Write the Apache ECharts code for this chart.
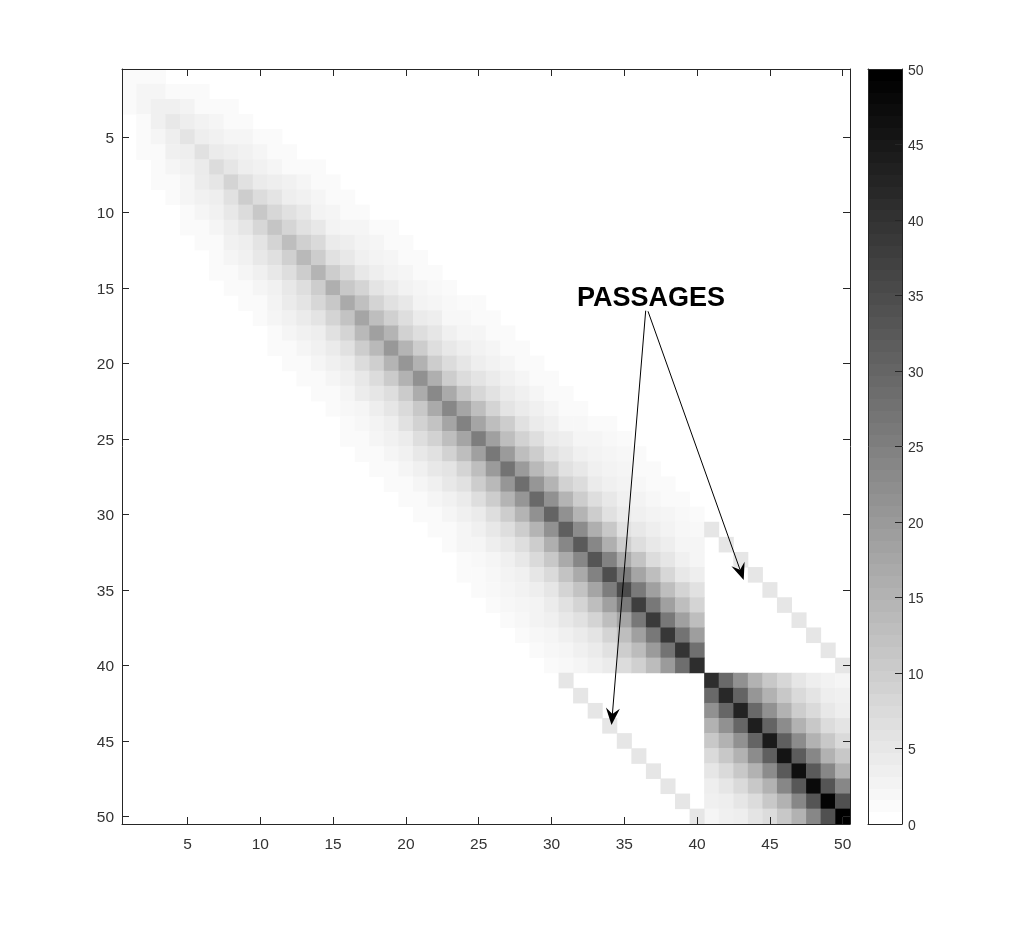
<!DOCTYPE html>
<html>
<head>
<meta charset="utf-8">
<style>
  html, body { margin: 0; background: #fff; }
  #chart { width: 1025px; height: 926px; }
</style>
<script src="https://cdn.jsdelivr.net/npm/echarts@6/dist/echarts.min.js"></script>
</head>
<body>
<div id="chart"></div>
<script>
const categories = ['1','2','3','4','5','6','7','8','9','10','11','12','13','14','15','16','17','18','19','20','21','22','23','24','25','26','27','28','29','30','31','32','33','34','35','36','37','38','39','40','41','42','43','44','45','46','47','48','49','50']

// first filled column of each row, rows 1 to 50
const rowStart = [1,1,1,2,2,2,3,3,4,5,5,6,7,7,8,9,10,11,11,12,13,14,15,16,16,17,18,19,20,21,22,23,24,24,25,26,27,28,29,30,41,41,41,41,41,41,41,41,41,41]

// values, from rowStart on
const rowValues = [
  [1,1,1],
  [1,2,2,1,1,1],
  [1,2,2.9,2.9,2.4,1,1,1],
  [1,2.9,4.5,3.3,2.5,2,1,1],
  [1,2,3.3,5.3,3.3,2.7,2,2,1,1],
  [1,1,2.9,3.3,5.9,3.9,3.3,2.7,2,1,1],
  [1,2,2.7,3.9,6.9,4.9,3.3,2.7,2,1,1,1],
  [1,1,2,3.7,4.9,8.4,5.9,3.9,3.3,2.7,2,1,1],
  [1,2,2.7,3.3,5.9,9.8,6.9,5.3,3.3,2.7,2,1,1],
  [1,2,2.7,4.5,6.9,10.8,7.8,5.9,4.5,2.4,2,1,1],
  [1,1,2,3.3,4.9,7.8,11.4,8.2,5.9,4.5,2.4,2,2,1,1],
  [1,1,2.7,3.3,5.3,8.4,12.7,9.2,7.3,3.9,3.3,2.4,2,1,1],
  [1,2,2.7,4.5,6.1,9.2,13.7,9.8,5.9,4.5,2.9,2.4,2,1,1],
  [1,1,2,2.9,4.5,6.5,9.8,14.7,9.8,7.3,4.5,3.3,2.4,2,1,1],
  [1,1,2,2.7,4.5,6.5,9.8,15.7,10.8,8.4,5.3,3.9,2.5,2,1.4,1],
  [1,1,2.4,3.9,5.3,7.8,10.8,16.7,12.4,8.4,5.9,4.5,2.4,2,1.4,1,1],
  [1,2,2.7,3.9,5.3,8.4,11.8,17.6,12.7,9.2,6.5,3.9,3.3,1.6,1.6,1,1],
  [1,2,2.7,3.3,5.9,8.4,13.7,18.6,14.7,8.8,6.5,4.9,2.9,2,2,1,1],
  [1,1,2,2.7,3.9,5.9,9.8,13.7,20.2,14.7,9.8,6.5,4.5,3.3,2.5,2,1,1],
  [1,1,2,2.9,3.9,6.9,9.4,14.7,20.6,15.1,9.8,6.9,4.9,3.3,2.5,2,1,1],
  [1,1,2,2.9,4.5,6.9,10.2,15.1,21.6,15.7,9.8,6.9,5.3,3.9,2.7,2,1,1],
  [1,1,2,3.7,4.9,6.5,10.2,16.3,23.1,16.7,11.2,7.8,5.7,3.9,2.9,2,1,1],
  [1,1.6,2,3.3,4.9,7.3,10.8,16.7,23.5,17.6,12.7,8.4,5.3,3.9,2.9,2,1,1],
  [1,1.6,2.4,3.3,5.9,8.8,11.8,17.6,24.5,17.6,12.7,9.8,5.9,3.9,2.9,1.6,1.6,1,1],
  [1,1,2,2.7,3.7,6.5,8.8,12.7,17.6,25.5,18.6,12.7,8.8,6.5,3.9,3.3,2,2,1.4,1],
  [1,1,2,2.7,4.5,5.9,8.8,12.7,18.6,26.5,19.6,12.7,9.8,5.9,4.5,2.9,2.4,2,1.6,1],
  [1,1,2,2.9,4.5,5.3,8.4,12.7,19.6,27.5,19.6,13.7,9.8,5.9,4.5,2.9,2.4,2,1,1],
  [1,1,2,2.9,4.5,5.9,9.8,13.7,20.6,28.4,20.6,14.7,8.8,6.9,3.9,2.9,2.4,1.6,1,1],
  [1,1,2,2.7,3.9,6.5,9.8,14.7,20.6,29.4,21.6,14.7,9.8,6.5,4.5,2.9,2.4,1.6,1,1],
  [1,1,2,2.9,3.9,6.5,9.8,14.7,21.6,30.4,21.6,14.7,9.8,5.9,3.9,2.9,2.4,2,1.4,1],
  [1,1,2,2.9,4.5,6.5,9.8,14.7,21.6,31.4,22.5,15.7,10.8,5.9,4.5,3.3,2.4,1.6,1.4],
  [1,2,2,3.3,4.5,6.5,9.8,15.7,23.5,32.4,23.5,15.7,9.8,6.5,4.5,3.3,2,2],
  [1,1.4,2,2.9,4.5,7.3,10.8,16.7,23.5,33.3,24.5,16.7,11.8,6.9,4.9,2.9,2],
  [1,1,1.6,2.4,2.9,4.9,7.3,11.8,16.7,24.5,34.7,25.5,17.6,12.7,7.8,4.5,3.3],
  [1,1.4,2,2.5,3.3,4.9,8.4,11.8,17.6,25.5,35.3,26.1,18.6,12.7,8.4,5.9],
  [1,1.6,2,2.4,3.7,5.9,8.4,12.7,18.6,26.1,37.8,26.5,18.6,12.7,8.4],
  [1,1.6,2.4,2.9,4.5,5.9,8.4,12.7,17.6,26.5,38.6,26.5,18.6,12.7],
  [1,1.6,2,2.9,3.9,5.3,8.4,12.7,18.6,26.5,39.2,27.5,19],
  [1,1.6,2,2.9,3.9,5.9,9.8,13.1,19.6,27.5,39.8,28],
  [1,1.4,2,2.9,3.9,6.9,9.2,13.1,19.6,28.4,41.2],
  [41.2,29.4,21.6,15.1,10.8,7.8,4.9,3.3,2.5,2],
  [29.4,42.2,30.4,20.6,15.1,10.8,7.3,5.3,3.3,2.9],
  [21.6,30,43.1,29.4,21.6,15.1,9.8,7.3,4.5,3.3],
  [15.1,21.6,30,44.1,30.4,22.5,15.1,10.8,6.9,5.3],
  [10.8,15.1,21.6,30.4,44.9,31.4,22.5,15.1,10.8,7.3],
  [7.3,10.8,15.1,22.5,31.4,46.1,32,23.5,15.1,10.8],
  [4.9,7.3,10.8,15.1,22.5,32.4,47.1,32.4,23.5,15.1],
  [3.3,4.9,7.3,10.8,15.1,23.5,32.7,48,33.3,23.5],
  [2.9,3.3,4.9,6.9,10.8,15.1,23.5,33.3,49.4,34.3],
  [2,2.9,3.3,5.3,6.9,10.8,15.1,23.5,34.3,50]
]

// the two passages: [row, column, value]
const passageCells = [
  [31,41,5],[32,42,5],[33,43,5],[34,44,5],[35,45,5],[36,46,5],[37,47,5],[38,48,5],[39,49,5],[40,50,5],
  [41,31,5],[42,32,5],[43,33,5],[44,34,5],[45,35,5],[46,36,5],[47,37,5],[48,38,5],[49,39,5],[50,40,5]
]

// lower edge of the 64 colorbar bands
const colorbarLevels = [0,0.78,1.56,2.34,3.13,3.91,4.69,5.47,6.25,7.03,7.81,8.59,9.38,10.16,10.94,11.72,12.5,13.28,14.06,14.84,15.63,16.41,17.19,17.97,18.75,19.53,20.31,21.09,21.88,22.66,23.44,24.22,25,25.78,26.56,27.34,28.13,28.91,29.69,30.47,31.25,32.03,32.81,33.59,34.38,35.16,35.94,36.72,37.5,38.28,39.06,39.84,40.63,41.41,42.19,42.97,43.75,44.53,45.31,46.09,46.88,47.66,48.44,49.22]

const annotationText = 'PASSAGES'

const INK = '#262626'
const LABEL = '#333333'
const FONT = '"Liberation Sans", Arial, sans-serif'

const cells = []
rowValues.forEach((vals, r) => {
  vals.forEach((v, k) => cells.push([rowStart[r] - 1 + k, r, v]))
})
passageCells.forEach(p => cells.push([p[1] - 1, p[0] - 1, p[2]]))

const everyFifth = i => (i + 1) % 5 === 0
const colorbarData = colorbarLevels.map((lo, i) => [lo, colorbarLevels[i + 1] || 50, i])

function mapAxis (position, withLabel, extraLabel) {
  return {
    type: 'category',
    gridIndex: 0,
    position,
    z: 10,
    data: categories,
    boundaryGap: true,
    axisLine: { show: true, onZero: false, lineStyle: { color: INK, width: 1 } },
    axisTick: { show: true, inside: true, length: 7, alignWithLabel: true, interval: everyFifth, lineStyle: { color: INK, width: 1 } },
    axisLabel: Object.assign({ show: withLabel, interval: everyFifth, color: LABEL, fontSize: 15.5, fontFamily: FONT }, extraLabel),
    splitLine: { show: false }
  }
}

function barEdge (position) {
  return {
    type: 'value',
    gridIndex: 1,
    position,
    z: 10,
    min: 0,
    max: 1,
    axisLine: { show: true, onZero: false, lineStyle: { color: INK, width: 1 } },
    axisTick: { show: false },
    axisLabel: { show: false },
    splitLine: { show: false }
  }
}

// arrow with a notched head, drawn in page pixels like the figure annotation
function arrow (x0, y0, x1, y1) {
  const len = Math.hypot(x1 - x0, y1 - y0)
  const ux = (x1 - x0) / len
  const uy = (y1 - y0) / len
  const head = 17
  const half = 7
  const notch = 11
  return [
    {
      type: 'line',
      z: 50,
      shape: { x1: x0, y1: y0, x2: x1 - ux * notch, y2: y1 - uy * notch },
      style: { stroke: '#000', lineWidth: 1 }
    },
    {
      type: 'polygon',
      z: 50,
      shape: {
        points: [
          [x1, y1],
          [x1 - ux * head - uy * half, y1 - uy * head + ux * half],
          [x1 - ux * notch, y1 - uy * notch],
          [x1 - ux * head + uy * half, y1 - uy * head - ux * half]
        ]
      },
      style: { fill: '#000' }
    }
  ]
}

const chart = echarts.init(document.getElementById('chart'))
chart.setOption({
  animation: false,
  backgroundColor: '#fff',
  grid: [
    { left: 122, top: 69, width: 728, height: 755 },
    { left: 868, top: 69, width: 34, height: 755 }
  ],
  xAxis: [
    mapAxis('bottom', true, { margin: 13 }),
    mapAxis('top', false),
    barEdge('bottom'),
    barEdge('top')
  ],
  yAxis: [
    Object.assign(mapAxis('left', true, { margin: 8, verticalAlign: 'top', lineHeight: 3 }), { inverse: true }),
    Object.assign(mapAxis('right', false), { inverse: true }),
    {
      type: 'value',
      gridIndex: 1,
      position: 'right',
      z: 10,
      min: 0,
      max: 50,
      interval: 5,
      axisLine: { show: true, onZero: false, lineStyle: { color: INK, width: 1 } },
      axisTick: { show: true, inside: true, length: 7, lineStyle: { color: INK, width: 1 } },
      axisLabel: { color: LABEL, fontSize: 14, fontFamily: FONT, margin: 6, verticalAlign: 'top', lineHeight: 4 },
      splitLine: { show: false }
    },
    {
      type: 'value',
      gridIndex: 1,
      position: 'left',
      z: 10,
      min: 0,
      max: 50,
      axisLine: { show: true, onZero: false, lineStyle: { color: INK, width: 1 } },
      axisTick: { show: false },
      axisLabel: { show: false },
      splitLine: { show: false }
    }
  ],
  visualMap: {
    show: false,
    seriesIndex: 0,
    dimension: 2,
    min: 0,
    max: 50,
    inRange: { color: ['#ffffff', '#000000'] }
  },
  series: [
    {
      type: 'heatmap',
      xAxisIndex: 0,
      yAxisIndex: 0,
      data: cells,
      progressive: 0,
      emphasis: { disabled: true }
    },
    {
      type: 'custom',
      xAxisIndex: 2,
      yAxisIndex: 2,
      data: colorbarData,
      silent: true,
      encode: { y: [0, 1] },
      renderItem (params, api) {
        const low = api.coord([0, api.value(0)])
        const high = api.coord([1, api.value(1)])
        const g = Math.round(255 * (1 - api.value(2) / 63))
        const top = Math.round(high[1])
        return {
          type: 'rect',
          shape: { x: low[0], y: top, width: high[0] - low[0], height: Math.round(low[1]) - top },
          style: { fill: `rgb(${g},${g},${g})` }
        }
      }
    }
  ],
  graphic: [
    ...arrow(645.7, 310.7, 611.5, 725),
    ...arrow(648, 311.3, 743.7, 580),
    {
      type: 'text',
      z: 50,
      x: 651,
      y: 298.5,
      style: {
        text: annotationText,
        fill: '#000',
        font: `bold 27px ${FONT}`,
        align: 'center',
        verticalAlign: 'middle'
      }
    }
  ]
})
</script>
</body>
</html>
